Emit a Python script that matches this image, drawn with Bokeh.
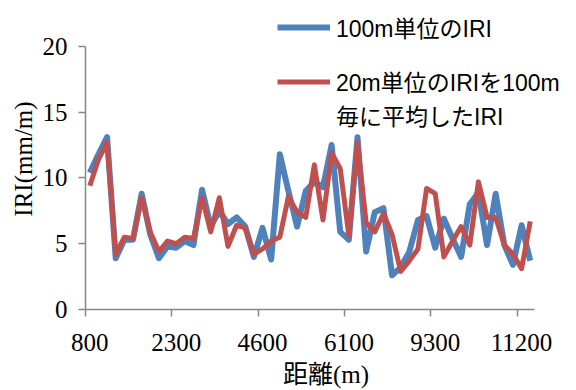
from bokeh.plotting import figure
from bokeh.models import Range1d, LinearAxis, FixedTicker, Legend, LegendItem
from bokeh.embed import file_html
from bokeh.resources import INLINE

# ---- data ----
cat_index = list(range(52))
tick_cats = [0, 10, 20, 30, 40, 50]
tick_labels = ["800", "2300", "4600", "6100", "9300", "11200"]
y_ticks = [0, 5, 10, 15, 20]

iri_100m = [10.4, 11.8, 13.1, 3.9, 5.3, 5.3, 8.8, 5.7, 3.9, 4.8,
            4.7, 5.2, 4.9, 9.1, 6.3, 7.5, 6.5, 7.0, 6.3, 4.0,
            6.2, 3.8, 11.8, 9.0, 6.3, 9.0, 9.7, 9.3, 12.5, 5.9,
            5.3, 13.1, 4.4, 7.4, 7.7, 2.6, 3.2, 4.4, 6.8, 7.1,
            4.7, 6.9, 5.4, 4.0, 8.0, 8.9, 4.9, 8.8, 4.9, 3.4,
            6.4, 3.7]
iri_20m_avg = [9.4, 11.4, 12.7, 4.2, 5.5, 5.4, 8.5, 5.9, 4.4, 5.2,
               5.0, 5.5, 5.4, 8.5, 5.9, 8.5, 4.8, 6.4, 6.2, 4.2,
               4.6, 5.2, 5.5, 8.6, 7.4, 7.0, 11.0, 6.8, 11.9, 10.7,
               5.6, 12.7, 6.6, 5.9, 7.3, 5.7, 2.9, 3.7, 4.6, 9.2,
               8.8, 4.0, 5.2, 6.3, 4.9, 9.7, 7.0, 7.0, 4.9, 4.2,
               3.1, 6.7]

label_blue = "100m単位のIRI"
label_red_1 = "20m単位のIRIを100m"
label_red_2 = "毎に平均したIRI"

AXIS_GRAY = "#878787"
SERIF = "Liberation Serif"
SANS = "Liberation Sans, Noto Sans CJK JP"

n = len(cat_index)
x_lo, x_hi = -0.5, n - 0.5
p = figure(width=566, height=390, output_backend="svg", toolbar_location=None,
           x_range=Range1d(x_lo, x_hi + 3.7), y_range=Range1d(0, 22.88),
           x_axis_location=None, y_axis_location="left",
           min_border_left=85, min_border_right=0, min_border_top=8, min_border_bottom=80)
p.outline_line_color = None
p.grid.grid_line_color = None
p.background_fill_color = "white"

# y axis
ya = p.yaxis[0]
ya.ticker = FixedTicker(ticks=y_ticks)
ya.bounds = (0, 20)
ya.axis_line_color = AXIS_GRAY
ya.axis_line_width = 1.5
ya.major_tick_line_color = AXIS_GRAY
ya.major_tick_line_width = 1.5
ya.major_tick_out = 7
ya.major_tick_in = 0
ya.minor_tick_line_color = None
ya.major_label_standoff = 11
ya.major_label_text_font = SERIF
ya.major_label_text_font_size = "25px"
ya.major_label_text_color = "black"
ya.axis_label = "IRI(mm/m)"
ya.axis_label_text_font = SERIF
ya.axis_label_text_font_size = "25px"
ya.axis_label_text_font_style = "normal"
ya.axis_label_text_color = "black"
ya.axis_label_standoff = 3

# x axis: tick marks between categories (no labels)
boundary_ticks = [c - 0.5 for c in tick_cats]
xa_ticks = LinearAxis(ticker=FixedTicker(ticks=boundary_ticks), bounds=(x_lo, x_hi),
                      major_label_overrides={t: "" for t in boundary_ticks})
xa_ticks.axis_line_color = AXIS_GRAY
xa_ticks.axis_line_width = 1.5
xa_ticks.major_tick_line_color = AXIS_GRAY
xa_ticks.major_tick_line_width = 1.5
xa_ticks.major_tick_out = 7
xa_ticks.major_tick_in = 0
xa_ticks.minor_tick_line_color = None
xa_ticks.major_label_standoff = 0
xa_ticks.major_label_text_font_size = "0px"
p.add_layout(xa_ticks, "below")

# x axis: labels centred on categories
xa_lab = LinearAxis(ticker=FixedTicker(ticks=tick_cats), bounds=(x_lo, x_hi),
                    major_label_overrides={c: l for c, l in zip(tick_cats, tick_labels)})
xa_lab.axis_line_color = None
xa_lab.major_tick_line_color = None
xa_lab.major_tick_out = 0
xa_lab.major_tick_in = 0
xa_lab.minor_tick_line_color = None
xa_lab.major_label_standoff = 17
xa_lab.major_label_text_font = SERIF
xa_lab.major_label_text_font_size = "25px"
xa_lab.major_label_text_color = "black"
xa_lab.axis_label = "距離(m)"
xa_lab.axis_label_text_font = "Liberation Serif, Noto Sans CJK JP"
xa_lab.axis_label_text_font_size = "25px"
xa_lab.axis_label_text_font_style = "normal"
xa_lab.axis_label_text_color = "black"
xa_lab.axis_label_standoff = 7
p.add_layout(xa_lab, "below")

r_blue = p.line(cat_index, iri_100m, line_color="#4F81BD", line_width=6, line_join="round")
r_red = p.line(cat_index, iri_20m_avg, line_color="#C0504D", line_width=5, line_join="round")

def style_legend(leg, item_h):
    leg.padding = 0
    leg.margin = 0
    leg.spacing = 0
    leg.border_line_color = None
    leg.background_fill_alpha = 0
    leg.glyph_width = 53
    leg.glyph_height = item_h
    leg.label_height = item_h
    leg.label_standoff = 6
    leg.label_text_font = SANS
    leg.label_text_font_size = "23px"
    leg.label_text_color = "black"

leg_a = Legend(items=[LegendItem(label=label_blue, renderers=[r_blue])], location=(192, 265))
leg_b = Legend(items=[LegendItem(label=label_red_1, renderers=[r_red]),
                      LegendItem(label=label_red_2, renderers=[])], location=(192, 177))
style_legend(leg_a, 30)
style_legend(leg_b, 31)
p.add_layout(leg_a, "center")
p.add_layout(leg_b, "center")

open("out.html", "w").write(file_html(p, INLINE))
